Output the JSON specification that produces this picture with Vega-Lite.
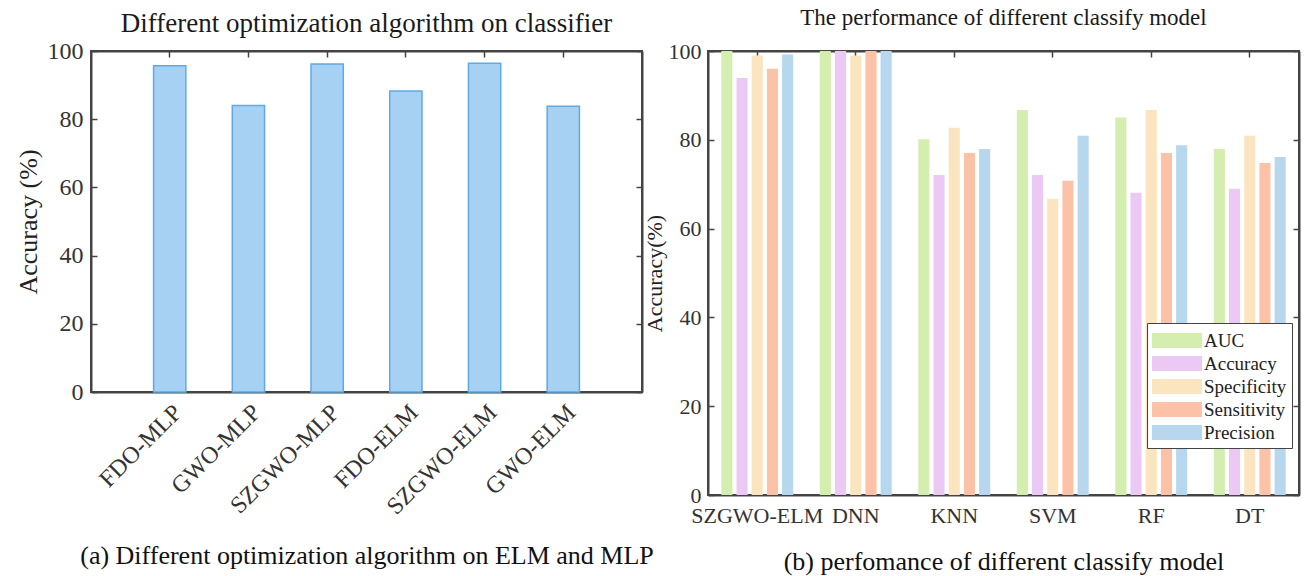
{
  "$schema": "https://vega.github.io/schema/vega-lite/v6.json",
  "padding": {"left": 14, "top": 6, "right": 5, "bottom": 5},
  "background": "white",
  "spacing": -13,
  "config": {
    "font": "Liberation Serif",
    "view": {"stroke": "#444", "strokeWidth": 2},
    "axis": {"grid": false, "domainColor": "#444", "domainWidth": 2, "tickColor": "#444", "tickWidth": 1.5,
      "labelFont": "Liberation Serif", "titleFont": "Liberation Serif", "labelColor": "#333", "titleColor": "#222", "titleFontWeight": "normal"},
    "title": {"font": "Liberation Serif", "fontWeight": "normal", "color": "#1a1a1a"}
  },
  "hconcat": [
    {
      "width": 551,
      "height": 341,
      "title": {"text": "Different optimization algorithm on classifier", "fontSize": 27, "offset": 1},
      "data": {"values": [
        {"alg": "FDO-MLP", "acc": 95.7},
        {"alg": "GWO-MLP", "acc": 84.0},
        {"alg": "SZGWO-MLP", "acc": 96.2},
        {"alg": "FDO-ELM", "acc": 88.3},
        {"alg": "SZGWO-ELM", "acc": 96.4},
        {"alg": "GWO-ELM", "acc": 83.8}
      ]},
      "layer": [
        {
          "mark": {"type": "bar", "fill": "#a6d1f3", "stroke": "#5eaae6", "strokeWidth": 1.5},
          "encoding": {
            "x": {"field": "alg", "type": "nominal", "sort": null,
              "scale": {"paddingInner": 0.59, "paddingOuter": 0.795},
              "axis": {"orient": "bottom", "labelAngle": -45, "labelFontSize": 24, "ticks": false, "labelPadding": 8,
                "title": "(a) Different optimization algorithm on ELM and MLP", "titleFontSize": 26, "titlePadding": 24, "titleColor": "#111"}},
            "y": {"field": "acc", "type": "quantitative", "scale": {"domain": [0, 100], "nice": false},
              "axis": {"orient": "left", "values": [0, 20, 40, 60, 80, 100], "tickSize": -6, "labelPadding": 14, "labelFontSize": 24,
                "title": "Accuracy (%)", "titleFontSize": 26, "titlePadding": 6}}
          }
        },
        {
          "mark": {"type": "bar", "opacity": 0},
          "encoding": {
            "x": {"field": "alg", "type": "nominal", "sort": null,
              "axis": {"orient": "top", "labels": false, "title": null, "tickSize": -6}},
            "y": {"field": "acc", "type": "quantitative",
              "axis": {"orient": "right", "labels": false, "title": null, "values": [0, 20, 40, 60, 80, 100], "tickSize": -6}}
          }
        }
      ]
    },
    {
      "width": 591,
      "height": 444,
      "title": {"text": "The performance of different classify model", "fontSize": 23, "offset": 10},
      "data": {"values": [
        {"model": "SZGWO-ELM", "metric": "AUC", "v": 100},
        {"model": "SZGWO-ELM", "metric": "Accuracy", "v": 93.9},
        {"model": "SZGWO-ELM", "metric": "Specificity", "v": 99.0},
        {"model": "SZGWO-ELM", "metric": "Sensitivity", "v": 96.0},
        {"model": "SZGWO-ELM", "metric": "Precision", "v": 99.2},
        {"model": "DNN", "metric": "AUC", "v": 100},
        {"model": "DNN", "metric": "Accuracy", "v": 100},
        {"model": "DNN", "metric": "Specificity", "v": 99.0},
        {"model": "DNN", "metric": "Sensitivity", "v": 100},
        {"model": "DNN", "metric": "Precision", "v": 100},
        {"model": "KNN", "metric": "AUC", "v": 80.1},
        {"model": "KNN", "metric": "Accuracy", "v": 72.1},
        {"model": "KNN", "metric": "Specificity", "v": 82.7},
        {"model": "KNN", "metric": "Sensitivity", "v": 77.0},
        {"model": "KNN", "metric": "Precision", "v": 77.9},
        {"model": "SVM", "metric": "AUC", "v": 86.7},
        {"model": "SVM", "metric": "Accuracy", "v": 72.1},
        {"model": "SVM", "metric": "Specificity", "v": 66.7},
        {"model": "SVM", "metric": "Sensitivity", "v": 70.8},
        {"model": "SVM", "metric": "Precision", "v": 80.9},
        {"model": "RF", "metric": "AUC", "v": 85.0},
        {"model": "RF", "metric": "Accuracy", "v": 68.1},
        {"model": "RF", "metric": "Specificity", "v": 86.7},
        {"model": "RF", "metric": "Sensitivity", "v": 77.0},
        {"model": "RF", "metric": "Precision", "v": 78.8},
        {"model": "DT", "metric": "AUC", "v": 77.9},
        {"model": "DT", "metric": "Accuracy", "v": 69.0},
        {"model": "DT", "metric": "Specificity", "v": 80.9},
        {"model": "DT", "metric": "Sensitivity", "v": 74.8},
        {"model": "DT", "metric": "Precision", "v": 76.1}
      ]},
      "layer": [
        {
          "mark": {"type": "bar", "opacity": 1},
          "encoding": {
            "x": {"field": "model", "type": "nominal", "sort": null,
              "scale": {"paddingInner": 0, "paddingOuter": 0},
              "axis": {"orient": "bottom", "labelAngle": 0, "labelFontSize": 22, "ticks": false, "labelPadding": 10,
                "title": "(b) perfomance of different classify model", "titleFontSize": 26, "titlePadding": 22, "titleColor": "#111"}},
            "xOffset": {"field": "metric", "type": "nominal", "sort": null,
              "scale": {"paddingInner": 0.27, "paddingOuter": 0.875}},
            "y": {"field": "v", "type": "quantitative", "stack": null, "scale": {"domain": [0, 100], "nice": false},
              "axis": {"orient": "left", "values": [0, 20, 40, 60, 80, 100], "tickSize": -6, "labelPadding": 13, "labelFontSize": 22,
                "title": "Accuracy(%)", "titleFontSize": 22, "titlePadding": 2}},
            "color": {"field": "metric", "type": "nominal", "sort": null,
              "scale": {"domain": ["AUC", "Accuracy", "Specificity", "Sensitivity", "Precision"],
                "range": ["#d4eeb0", "#ebc9f4", "#fbe5c0", "#fbc2a8", "#b6d7ee"]},
              "legend": {"orient": "none", "legendX": 1056, "legendY": 272, "title": null,
                "symbolType": "M-1,-0.6H3V0.6H-1Z", "symbolSize": 625, "symbolStrokeWidth": 0, "symbolOpacity": 1,
                "labelFontSize": 19, "labelFont": "Liberation Serif", "labelColor": "#222", "labelOffset": 27,
                "rowPadding": 0, "padding": 5, "strokeColor": "#444", "fillColor": "white"}}
          }
        },
        {
          "mark": {"type": "bar", "opacity": 0},
          "encoding": {
            "x": {"field": "model", "type": "nominal", "sort": null,
              "axis": {"orient": "top", "labels": false, "title": null, "tickSize": -6}},
            "y": {"field": "v", "type": "quantitative", "stack": null,
              "axis": {"orient": "right", "labels": false, "title": null, "values": [0, 20, 40, 60, 80, 100], "tickSize": -6}}
          }
        }
      ]
    }
  ]
}
